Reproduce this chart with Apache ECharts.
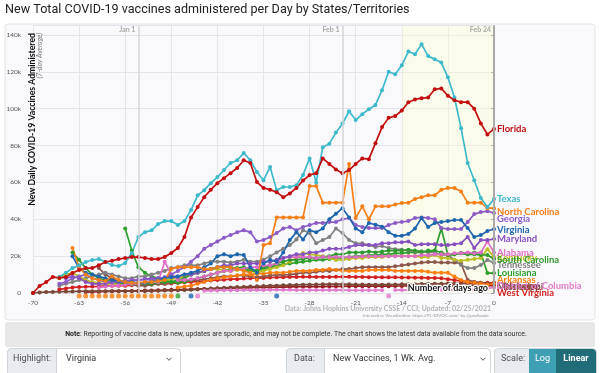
<!DOCTYPE html>
<html><head><meta charset="utf-8">
<script src="https://cdn.jsdelivr.net/npm/echarts@6/dist/echarts.min.js"></script>
<style>html,body{margin:0;padding:0;background:#fff}#c{width:600px;height:373px}</style>
</head><body><div id="c"></div>
<script>
// ---- DATA: new vaccines per day (thousands, 7-day avg); x = days ago ----
const titleText = 'New Total COVID-19 vaccines administered per Day by States/Territories';
const yTickValues = [0, 20, 40, 60, 80, 100, 120, 140];
const dateMarkDays = [-54, -23, 0];
const dateMarkLabels = ['Jan 1', 'Feb 1', 'Feb 24'];

const floridaStart = -70;
const floridaValues = [0,3.8,5.9,8.7,8.1,8.7,10.8,12.5,13.5,13.5,15,16.8,17.5,18.4,19,19.5,19.5,19,18.4,18.4,19.5,21.7,24.4,30.4,41,46.6,52,56,59.6,62.3,65,67.8,72,70.5,60.2,57,56,54.7,52,54,57,61,64,65,73,70,67,65,66.7,70,73,72.6,81.3,90,95,96,99,103.5,105,105.7,106,110.5,111,107,104.6,103.5,103.5,100,92,86,89];
const texasStart = -66;
const texasValues = [8.7,11,13.5,15,16.8,17.9,18.4,16.8,15.2,14.6,16.3,21.7,30.4,33,34,37.4,39,39,36.9,39,45,53,55.8,59.6,62.9,66.7,70.5,72,75.9,72,65.6,61.2,68.3,55.8,57.5,57.5,58.5,64,73,60,79,81,87,92,98.6,93.8,97,99.7,102,110,120,118.7,123.6,131,129.5,135,128.5,126.8,125,117,106,89.4,70.5,61.2,51.5,46.6,51];
const northCarolinaStart = -64;
const northCarolinaValues = [24.4,14,10,8,7,6.5,9,7,6,5.5,5.5,6,6,6.5,7,13,14,14,14,14,13,13,14,14,14,13,12,11,7,26,27,41,41,41,41,41,58,58,49,49,49,49,70,40.7,47,40,47,47,47,48,48.8,49,51,52,53,53,56,57,57,55,49,49,49,46,46];
const georgiaStart = -66;
const georgiaValues = [5,6,8,9,10,8,7,6,6,6,6.5,7,7,7.5,7,8,8,10,12,14,17,20,24,26,28,30,31.5,33,34,33,28,28.7,30.4,32.5,35,35.8,34,35.8,36.9,38,38,38.5,38.5,40,40.7,36.9,35.8,35.2,35.2,35.2,36.9,38,38.5,39,40.7,41,40.7,40,35.2,34.7,34.7,34.7,38.5,42.8,43.9,44.4,43.4];
const virginiaStart = -64;
const virginiaValues = [20,13.5,11,10,9,8,7,6.5,6,6,5.5,5.5,6,7,8,8.5,9,10,11,12,14,16,20,21,20,21,20.6,14,11,16,18,17,22,28.7,33,29,34,33,35,40,43,46,41,35,33,38,37,36,33,31,31,32,35,40.7,35.8,38,38.5,39,39.6,39.6,35.2,30.4,31.4,33.6,34.7];
const marylandStart = -65;
const marylandValues = [8,9,8,6,5,5,5,6,6,6.5,7,7,7.5,8,8,8.5,9,9,10,10,11,12,13,14,15,15,16,16,16,16,17,17,18,19,20,21,21,22,22,23,24,24,24,25,26,26,26,26,27,27,27.5,27.5,28,26,26.5,26.5,26.5,26,26,26.5,27,30.4,24.4,28.7,28.7,29.3];
const alabamaStart = -60;
const alabamaValues = [3,3.5,4,4,4.5,5,5,5.5,6,6,17,10,7,7,7.5,8,9,10,11,12,12,13,13,14,14,15,15,16,19,19.5,19.5,19.5,19.5,19,19.5,19.5,19.5,19.5,19.5,19.5,20,20,20,20,20,20,20,20,20,20.5,20.5,21,21,21,21.5,21.5,22,21.5,22,28,22];
const kentuckyStart = -66;
const kentuckyValues = [8,10,11,9,7,6,5.5,5,5,5,5,5,5,5.5,6,6.5,7,7.5,8,9,10,11,12,13,13,12.5,12,12.5,13,12,11,12,13,14,15,17,19,21.7,21,20.6,20,19,17.9,18,18.5,19,19,19.5,19.5,19.5,20,20,20,20,20,19.5,19.5,20.6,19,19,18,17.5,18,18.5,19,23.8,19.5];
const southCarolinaStart = -64;
const southCarolinaValues = [22,18,13.5,10,8,7,6,5.5,5,5,5,5,5,5.5,6,6,7,8,10,11,12,13,14,14,14,13,13,12,12,14,15,16,17,18,18,18.5,19,19,19.5,20,21,21,22,22,22,22.5,22,22.5,23,23,23,23.5,23,22.5,22.5,23,35,20.6,21,21.5,21,21,20.6,20.6,18.4];
const tennesseeStart = -66;
const tennesseeValues = [4,5,6,7,8,9,10,11,10,9,8,8,9,9,10,11,12,13.5,14,15,15,15,16,17,17,17,16.5,17,18,17,17,18,20,22,24,26,29,34,32.5,27,28.7,30.4,35,32.5,28.7,27,27,26,25,25.5,24.4,23.8,23.5,23,22.5,22.5,22,22,20.6,20.6,17.9,15.2,13.5,13.5,15.2,17.9,16.3];
const louisianaStart = -56;
const louisianaValues = [35,23,14,11,9,8,7,6,5.5,6,7,8,9,10,11,12,13,13.5,14,13,12,13,14,15,15.5,16,16.5,17,17.5,18,18,18.5,19,19,19.5,20,20,20.5,20.5,21,21,21.5,21.5,22,22,22,23,23,22,20.6,21,21.7,21,22,21.7,10.8,10.8];
const dcStart = -44;
const dcValues = [1.2,1.3,1.4,1.5,1.5,1.5,1.6,1.6,1.6,1.6,1.7,1.7,1.7,1.7,1.6,1.6,1.6,1.6,1.6,1.6,1.6,1.6,1.5,1.5,1.5,1.5,1.5,1.5,null,1.6,1.6,1.6,1.6,1.6,1.6,1.7,1.7,1.7,1.7,1.7,1.8,1.8,2,2.5,3];
const arkansasStart = -48;
const arkansasValues = [3,3.5,4,5,6,7,8,8.5,9,9.5,10,10,10.5,10.5,11,11,11,11.5,12,12,12,12.5,12.5,13,12.5,12,12,12,12,12.5,12.5,12.5,12.5,12,12,12,12,12,11.5,11,11,11,9,7,6,5.5,5,4.5,5];
const oklahomaStart = -60;
const oklahomaValues = [13.5,10,8,6,5,4.5,4,4,4.5,5,5,5.5,6,6.5,7,7,7.5,8,8.5,9,9,9.5,9.5,9,8.5,9,9.5,9.8,9.8,10,10.5,11,11,11.5,12,12,12.5,13,13,13.5,14,14,14,14,14,14.5,15,15.5,16,16.5,16.8,16.8,16.5,16.5,16.5,16,7,6,5.5,5,5];
const mississippiStart = -70;
const mississippiValues = [0,0.3,0.5,0.6,0.7,0.8,0.8,0.9,1,1,1,1,1,1,1,1,1,1,1.1,1.2,1.3,1.4,1.5,1.6,1.8,2,2.2,2.4,2.6,2.8,3,3.2,3.3,3.5,3.6,3.8,4,4,4.2,4.3,4.4,4.5,4.5,4.6,4.7,4.8,4.8,4.8,4.7,4.6,4.6,4.5,4.5,4.5,4.6,4.6,4.7,4.8,4.8,4.9,5,5,5,5.1,5.2,5.3,5.2,5.2,5.2,5.3,5.4];
const delawareStart = -62;
const delawareValues = [0.5,0.6,0.7,0.8,0.9,1,1,1.1,1.2,1.3,1.4,1.5,1.6,1.7,1.8,1.9,2,2.1,2.2,2.3,2.4,2.5,2.6,2.7,2.8,2.9,3,3,3.1,3.2,3.2,3.3,3.4,3.4,3.5,3.5,3.5,3.6,3.6,3.6,3.7,3.7,3.7,3.7,3.7,3.7,3.7,3.8,3.8,3.8,3.8,3.8,3.8,3.8,3.8,3.9,3.9,3.9,4,4,4,4,4];
const westVirginiaStart = -66;
const westVirginiaValues = [2,2.5,3,3.2,3.4,3.5,3.6,3.8,4,4,4,4.2,4.5,4.5,4.8,5,5,5.2,5.5,5.8,6,6.2,6.5,6.8,7,7.2,7.5,7.5,7.8,8,8,8.2,8.4,8.5,8.6,8.7,8.7,8.8,8.8,8.7,8.7,8.7,8.8,8.8,8.8,8.7,8.7,8.6,8.6,8.5,8.5,8.5,8.4,8.4,8.3,8.3,8.2,8.2,8,7.5,7,6.5,6,5.8,5.6,5.5,5.5];

// days with zero reported (drawn just under the axis)
const zeroValue = -1.6;
const arkansasZeroDays = [-63,-62,-61,-60,-59,-58,-57,-56,-55,-54,-53,-52,-51,-50,-49];
const louisianaZeroDays = [-48];
const virginiaZeroDays = [-46,-33];
const dcZeroDays = [-45,-16];

// ---- series table built from the arrays above ----
const seriesTable = [
  ['Delaware', delawareStart, delawareValues],
  ['Mississippi', mississippiStart, mississippiValues],
  ['West Virginia', westVirginiaStart, westVirginiaValues],
  ['Oklahoma', oklahomaStart, oklahomaValues],
  ['Arkansas', arkansasStart, arkansasValues],
  ['District of Columbia', dcStart, dcValues],
  ['Louisiana', louisianaStart, louisianaValues],
  ['Tennessee', tennesseeStart, tennesseeValues],
  ['Kentucky', kentuckyStart, kentuckyValues],
  ['South Carolina', southCarolinaStart, southCarolinaValues],
  ['Alabama', alabamaStart, alabamaValues],
  ['Maryland', marylandStart, marylandValues],
  ['Georgia', georgiaStart, georgiaValues],
  ['Virginia', virginiaStart, virginiaValues],
  ['North Carolina', northCarolinaStart, northCarolinaValues],
  ['Texas', texasStart, texasValues],
  ['Florida', floridaStart, floridaValues]
];
const zeroTable = [
  ['Arkansas', arkansasZeroDays], ['Louisiana', louisianaZeroDays],
  ['Virginia', virginiaZeroDays], ['District of Columbia', dcZeroDays]
];

// ---- styles ----
const styleMap = {
  'Florida': {c:'#c20e0e', dy:0},
  'Texas': {c:'#3db9cc', dy:0},
  'North Carolina': {c:'#f57f17', dy:4},
  'Georgia': {c:'#8b5bc6', dy:6},
  'Virginia': {c:'#1d66ad', dy:1},
  'Maryland': {c:'#8650bf', dy:0},
  'Alabama': {c:'#de6cc6', dy:0},
  'Kentucky': {c:'#bcbd22', dy:1},
  'South Carolina': {c:'#2e9a2e', dy:1},
  'Tennessee': {c:'#808080', dy:2},
  'Louisiana': {c:'#2ca02c', dy:0},
  'District of Columbia': {c:'#e07ccb', dy:-2},
  'Arkansas': {c:'#ff7f0e', dy:-4},
  'Oklahoma': {c:'#8c564b', dy:2},
  'Mississippi': {c:'#7a4636', dy:4},
  'Delaware': {c:'#9a1b1b', dy:0},
  'West Virginia': {c:'#d22020', dy:10}
};
const FONT = 'Lato, "Open Sans", sans-serif';
const UIFONT = 'Roboto, "Liberation Sans", sans-serif';

const series = seriesTable.map(([name, start, vals]) => ({
  type: 'line', name,
  data: vals.map((v, i) => [start + i, v]),
  color: styleMap[name].c,
  lineStyle: {width: 1.7},
  symbol: 'circle', symbolSize: 4, showAllSymbol: true,
  silent: true, z: 3,
  endLabel: {show: true, formatter: name, color: styleMap[name].c, fontFamily: FONT,
    fontWeight: 'bold', fontSize: 9.5, distance: 3, offset: [0, styleMap[name].dy]}
}));
zeroTable.forEach(([name, ds]) => series.push({
  type: 'scatter', name: name + ' zero', data: ds.map(d => [d, zeroValue]),
  color: styleMap[name].c, symbolSize: 5, clip: false, silent: true, z: 3
}));
// helper series for date lines, label marks and highlight band
series.push({
  type: 'line', name: 'marks', data: [], z: 1, silent: true,
  markArea: {silent: true, itemStyle: {color: 'rgba(255,255,200,0.32)'},
    data: [[{xAxis: -14}, {xAxis: 0}]]},
  markLine: {silent: true, symbol: 'none', label: {show: false},
    data: dateMarkDays.map((d, i) => ({xAxis: d,
      lineStyle: {color: i === 2 ? '#a9a9a9' : '#d4d4d8', width: i === 2 ? 2 : 1.5, type: 'solid'}}))},
  markPoint: {silent: true, symbol: 'circle', symbolSize: 0,
    label: {show: true, position: 'left', distance: 3, offset: [0, 4.5], color: '#aaa',
      fontFamily: FONT, fontWeight: 'bold', fontSize: 7, formatter: p => p.name},
    data: dateMarkDays.map((d, i) => ({name: dateMarkLabels[i], coord: [d, 145]}))}
});

const chevron = (x, y) => ({type: 'polyline', shape: {points: [[x - 2.5, y - 1.3], [x, y + 1.3], [x + 2.5, y - 1.3]]},
  style: {stroke: '#555', lineWidth: 1, fill: null}});

const graphic = [
  {type: 'rect', z: -10, shape: {x: 5, y: 24, width: 590, height: 296, r: 3},
    style: {fill: '#f9f9fc', stroke: '#e2e2e6', lineWidth: 1}},
  {type: 'text', x: 5, y: 10, style: {text: titleText, fontFamily: UIFONT, fontSize: 12.6, fill: '#222',
    verticalAlign: 'middle'}},
  {type: 'text', x: 32, y: 33, rotation: Math.PI / 2, z: 5,
    style: {text: 'New Daily COVID-19 Vaccines Administered', fontFamily: FONT, fontWeight: 'bold',
      fontSize: 8.7, fill: '#111', align: 'right', verticalAlign: 'middle'}},
  {type: 'text', x: 40, y: 33, rotation: Math.PI / 2, z: 5,
    style: {text: '(7-day Average)', fontFamily: FONT, fontStyle: 'italic',
      fontSize: 7, fill: '#777', align: 'right', verticalAlign: 'middle'}},
  {type: 'text', x: 488, y: 288, z: 10,
    style: {text: 'Number of days ago', fontFamily: FONT, fontWeight: 'bold', fontSize: 9, fill: '#111',
      stroke: '#fff', lineWidth: 2.5, align: 'right', verticalAlign: 'middle'}},
  {type: 'text', x: 491, y: 308.5,
    style: {text: 'Data: Johns Hopkins University CSSE / CCI; Updated: 02/25/2021', fontFamily: FONT,
      fontWeight: 'bold', fontSize: 7, fill: '#b3b3b3', align: 'right', verticalAlign: 'middle'}},
  {type: 'text', x: 491, y: 315.5,
    style: {text: 'Interactive Visualization: https://91-DIVOC.com/ by @profwade_', fontFamily: FONT,
      fontSize: 4.5, fill: '#999', align: 'right', verticalAlign: 'middle'}},
  // note bar
  {type: 'rect', shape: {x: 5, y: 322, width: 590, height: 25, r: 2}, style: {fill: '#e7e7e7'}},
  {type: 'text', x: 296, y: 334.5,
    style: {text: '{b|Note}: Reporting of vaccine data is new, updates are sporadic, and may not be complete. The chart shows the latest data available from the data source.',
      rich: {b: {fontWeight: 'bold', fontFamily: UIFONT, fontSize: 6.9, fill: '#222'}},
      fontFamily: UIFONT, fontSize: 6.9, fill: '#333', align: 'center', verticalAlign: 'middle'}},
  // controls
  {type: 'rect', shape: {x: 7.5, y: 348.5, width: 173, height: 28, r: 4}, style: {fill: '#fff', stroke: '#ced4da'}},
  {type: 'rect', shape: {x: 7.5, y: 348.5, width: 49, height: 28, r: [4, 0, 0, 4]}, style: {fill: '#e9ecef', stroke: '#ced4da'}},
  {type: 'text', x: 13, y: 359, style: {text: 'Highlight:', fontFamily: UIFONT, fontSize: 9, fill: '#495057', verticalAlign: 'middle'}},
  {type: 'text', x: 66, y: 359, style: {text: 'Virginia', fontFamily: UIFONT, fontSize: 9, fill: '#333', verticalAlign: 'middle'}},
  chevron(169, 359),
  {type: 'rect', shape: {x: 286.5, y: 348.5, width: 204, height: 28, r: 4}, style: {fill: '#fff', stroke: '#ced4da'}},
  {type: 'rect', shape: {x: 286.5, y: 348.5, width: 38, height: 28, r: [4, 0, 0, 4]}, style: {fill: '#e9ecef', stroke: '#ced4da'}},
  {type: 'text', x: 294, y: 359, style: {text: 'Data:', fontFamily: UIFONT, fontSize: 9, fill: '#495057', verticalAlign: 'middle'}},
  {type: 'text', x: 333, y: 359, style: {text: 'New Vaccines, 1 Wk. Avg.', fontFamily: UIFONT, fontSize: 9, fill: '#333', verticalAlign: 'middle'}},
  chevron(483, 359),
  {type: 'rect', shape: {x: 494.5, y: 348.5, width: 102, height: 28, r: 4}, style: {fill: '#e9ecef', stroke: '#ced4da'}},
  {type: 'text', x: 501, y: 359, style: {text: 'Scale:', fontFamily: UIFONT, fontSize: 9, fill: '#495057', verticalAlign: 'middle'}},
  {type: 'rect', shape: {x: 529, y: 349, width: 27, height: 27}, style: {fill: '#3f9fb4'}},
  {type: 'text', x: 542.5, y: 359, style: {text: 'Log', fontFamily: UIFONT, fontSize: 9, fill: '#fff', align: 'center', verticalAlign: 'middle'}},
  {type: 'rect', shape: {x: 556, y: 349, width: 40, height: 27, r: [0, 4, 4, 0]}, style: {fill: '#216c79'}},
  {type: 'text', x: 576, y: 359, style: {text: 'Linear', fontFamily: UIFONT, fontWeight: 'bold', fontSize: 9, fill: '#fff', align: 'center', verticalAlign: 'middle'}}
];

const chart = echarts.init(document.getElementById('c'), null, {renderer: 'canvas'});
chart.setOption({
  animation: false,
  backgroundColor: '#fff',
  grid: {left: 33, right: 106, top: 25.7, bottom: 80, containLabel: false},
  xAxis: {type: 'value', min: -70, max: 0, interval: 7,
    axisLine: {show: false}, axisTick: {show: false},
    splitLine: {show: true, lineStyle: {color: '#e4e4ec', width: 1}},
    axisLabel: {fontFamily: FONT, fontSize: 6.5, color: '#555', margin: 6}},
  yAxis: {type: 'value', min: 0, max: 145, interval: 20, offset: 7,
    axisLine: {show: true, lineStyle: {color: '#9a9a9a', width: 1}},
    axisTick: {show: true, length: 3, lineStyle: {color: '#9a9a9a'}},
    splitLine: {show: true, lineStyle: {color: '#e4e4ec', width: 1}},
    axisLabel: {fontFamily: FONT, fontSize: 6.5, color: '#555', margin: 5, showMaxLabel: false,
      formatter: v => (yTickValues.indexOf(v) < 0 ? '' : (v === 0 ? '0' : v + 'k'))}},
  series: series,
  graphic: {elements: graphic}
});
</script></body></html>
